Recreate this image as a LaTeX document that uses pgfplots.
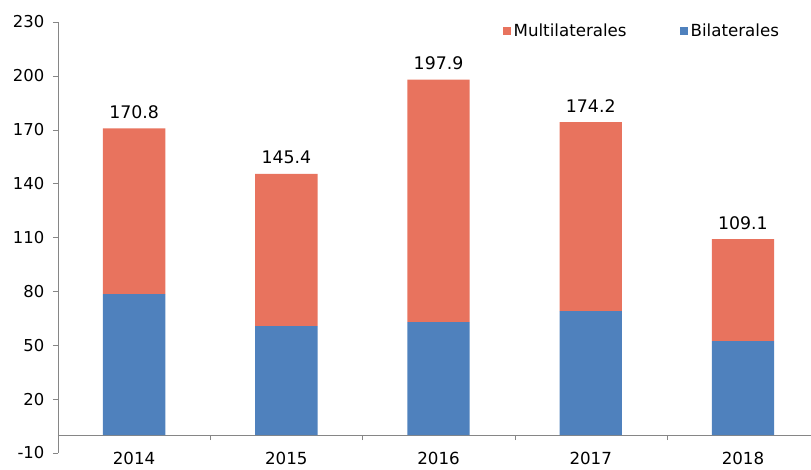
\documentclass[border=0pt]{standalone}
\usepackage{pgfplots}
\pgfplotsset{compat=1.18}
\usepackage{fontspec}
\setmainfont{DejaVu Sans}

\definecolor{bilat}{HTML}{4F81BD}
\definecolor{multi}{HTML}{E8735E}
\definecolor{ejegris}{HTML}{868686}

% montos por año: bilaterales, multilaterales, total
\pgfplotstableread{
x bil mul tot
0 78.5 92.3 170.8
1 60.7 84.7 145.4
2 62.9 135.0 197.9
3 69.0 105.2 174.2
4 52.3 56.8 109.1
}\donaciones

\pgfplotsset{marco/.style={
    scale only axis,
    width=564.75pt, height=323.25pt,
    xmin=-0.5, xmax=4.447,
    ymin=-10, ymax=230}}

\begin{document}
\begin{tikzpicture}
\begin{axis}[
    marco,
    ybar stacked, bar width=0.41,
    axis y line*=left,
    axis x line*=middle,
    axis line style={-, draw=ejegris},
    tick align=outside,
    major tick length=3.75pt,
    tick style={draw=ejegris},
    ytick={-10,20,...,230},
    xtick={0.5,1.5,2.5,3.5},
    xticklabels={},
    extra x ticks={0,1,2,3,4},
    extra x tick labels={2014,2015,2016,2017,2018},
    extra x tick style={major tick length=0pt,
        xticklabel style={yshift=-9.5pt, font=\fontsize{12.5}{14}\selectfont}},
    yticklabel style={xshift=-3pt, font=\fontsize{12.3}{14}\selectfont},
    /pgf/number format/assume math mode=true,
    legend style={draw=none, fill=none, legend columns=2,
        at={(0.776,0.978)}, anchor=center,
        font=\fontsize{12.5}{14}\selectfont,
        /tikz/every even column/.append style={column sep=38pt}},
    reverse legend,
    legend image code/.code={\fill[#1] (0pt,-3pt) rectangle (6pt,3pt);},
]
\addplot[fill=bilat, draw=none] table[x=x, y=bil] {\donaciones};
\addlegendentry{Bilaterales}
\addplot[fill=multi, draw=none] table[x=x, y=mul] {\donaciones};
\addlegendentry{Multilaterales}
\coordinate (SW) at (rel axis cs:0,0);
\end{axis}
% totales sobre cada barra, en un eje superpuesto sin apilar
\begin{axis}[marco, hide axis,
    /pgf/number format/assume math mode=true]
\addplot[only marks, mark=none,
    nodes near coords, point meta=y,
    nodes near coords style={font=\fontsize{13}{15}\selectfont, text=black,
        anchor=south, yshift=3.8pt,
        /pgf/number format/.cd, fixed, fixed zerofill, precision=1}]
    table[x=x, y=tot] {\donaciones};
\end{axis}
\pgfresetboundingbox
\path (SW) ++(-43.5pt,-12.75pt) rectangle ++(608.25pt,352.5pt);
\end{tikzpicture}
\end{document}
